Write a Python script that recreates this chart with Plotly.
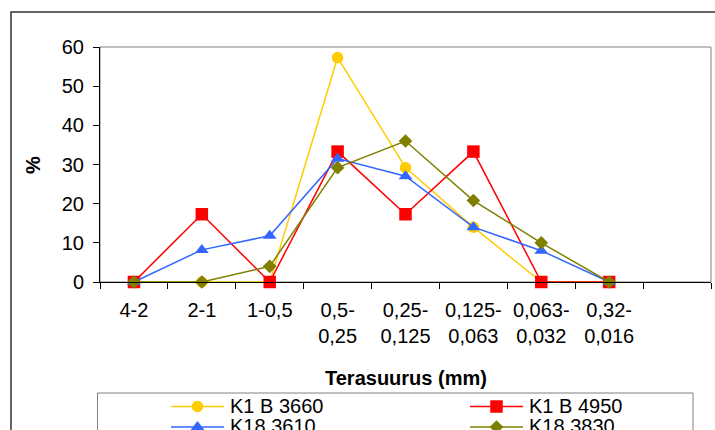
import math
import plotly.graph_objects as go

categories = ["4-2", "2-1", "1-0,5", "0,5-<br>0,25", "0,25-<br>0,125",
              "0,125-<br>0,063", "0,063-<br>0,032", "0,32-<br>0,016"]
extra_category = [" "]

series_names = ["K1 B 3660", "K1 B 4950", "K18 3610", "K18 3830"]
k1b3660 = [0, 0, 0, 57.3, 29.2, 14.0, 0, 0]
k1b4950 = [0, 17.3, 0, 33.3, 17.3, 33.3, 0, 0]
k18_3610 = [0, 8.2, 11.8, 31.5, 27.0, 14.0, 8.0, 0]
k18_3830 = [0, 0, 4.0, 29.2, 36.0, 20.8, 10.0, 0]

y_ticks = [0, 10, 20, 30, 40, 50, 60]

FONT = "Arial, Liberation Sans, sans-serif"

styles = [
    dict(color="#FFCC00", symbol="circle", size=11.5),
    dict(color="#FF0000", symbol="square", size=12.5),
    dict(color="#3366FF", symbol="triangle-up", size=12),
    dict(color="#808000", symbol="diamond", size=10.5),
]

fig = go.Figure()
for name, vals, st in zip(series_names, [k1b3660, k1b4950, k18_3610, k18_3830], styles):
    fig.add_trace(go.Scatter(
        x=categories, y=vals, name=name, mode="lines+markers",
        line=dict(color=st["color"], width=1.5),
        marker=dict(color=st["color"], symbol=st["symbol"], size=st["size"],
                    line=dict(width=0)),
        cliponaxis=False, showlegend=False,
    ))

W, H = 715, 430
L, R, T, B = 100, 4, 47, 148
pw, ph = W - L - R, H - T - B


def px_x(x):
    return (x - L) / pw


def px_y(y):
    return (H - B - y) / ph


shapes = [
    dict(type="rect", xref="paper", yref="paper", x0=0, x1=1, y0=0, y1=1,
         line=dict(color="#808080", width=1), layer="below"),
    dict(type="rect", xref="paper", yref="paper", x0=px_x(11), x1=px_x(760),
         y0=px_y(480), y1=px_y(12), line=dict(color="#333333", width=1.5),
         layer="below"),
    dict(type="rect", xref="paper", yref="paper", x0=px_x(97.5), x1=px_x(693),
         y0=px_y(470), y1=px_y(393), line=dict(color="#808080", width=1),
         layer="below"),
]
annotations = [
    dict(text="<b>%</b>", xref="paper", yref="paper", x=px_x(33), y=px_y(165),
         textangle=-90, showarrow=False, xanchor="center", yanchor="middle",
         font=dict(family=FONT, size=20, color="black")),
    dict(text="<b>Terasuurus (mm)</b>", xref="paper", yref="paper", x=0.5,
         y=px_y(378), showarrow=False, xanchor="center", yanchor="middle",
         font=dict(family=FONT, size=20, color="black")),
]

# legend (2 columns, drawn manually so that spacing matches the original)
col_x = [171, 470]
row_y = [406.5, 427]
sample_len = 53


def glyph(symbol, cx, cy, size, color):
    r = size / 2
    if symbol == "circle":
        return dict(type="circle", xref="paper", yref="paper",
                    x0=px_x(cx - r), x1=px_x(cx + r), y0=px_y(cy + r), y1=px_y(cy - r),
                    fillcolor=color, line=dict(width=0))
    if symbol == "square":
        return dict(type="rect", xref="paper", yref="paper",
                    x0=px_x(cx - r), x1=px_x(cx + r), y0=px_y(cy + r), y1=px_y(cy - r),
                    fillcolor=color, line=dict(width=0))
    if symbol == "triangle-up":
        rt = r * 2 / math.sqrt(3)
        pts = [(cx - rt, cy + r / 2), (cx + rt, cy + r / 2), (cx, cy - r)]
    else:  # diamond
        rd = r * 1.3
        pts = [(cx - rd, cy), (cx, cy - rd), (cx + rd, cy), (cx, cy + rd)]
    path = "M" + " L".join(f"{px_x(x):.5f},{px_y(y):.5f}" for x, y in pts) + " Z"
    return dict(type="path", xref="paper", yref="paper", path=path,
                fillcolor=color, line=dict(width=0))


for i, (name, st) in enumerate(zip(series_names, styles)):
    cx0 = col_x[i % 2]
    cy = row_y[i // 2]
    shapes.append(dict(type="line", xref="paper", yref="paper",
                       x0=px_x(cx0), x1=px_x(cx0 + sample_len), y0=px_y(cy), y1=px_y(cy),
                       line=dict(color=st["color"], width=1.5)))
    shapes.append(glyph(st["symbol"], cx0 + sample_len / 2, cy, st["size"], st["color"]))
    annotations.append(dict(text=name, xref="paper", yref="paper",
                            x=px_x(cx0 + sample_len + 4), y=px_y(cy - 1),
                            showarrow=False, xanchor="left", yanchor="middle",
                            font=dict(family=FONT, size=20, color="black")))

fig.update_layout(
    width=W, height=H,
    margin=dict(l=L, r=R, t=T, b=B, autoexpand=False),
    paper_bgcolor="white", plot_bgcolor="white",
    font=dict(family=FONT, size=20, color="black"),
    showlegend=False,
    xaxis=dict(type="category", categoryorder="array",
               categoryarray=categories + extra_category,
               range=[-0.5, len(categories) + len(extra_category) - 0.5],
               tickson="boundaries", ticks="outside", ticklen=6, tickcolor="black",
               ticklabelstandoff=10,
               showline=True, linecolor="black", linewidth=1, showgrid=False,
               zeroline=False, tickfont=dict(family=FONT, size=20, color="black")),
    yaxis=dict(range=[0, 60], tickvals=y_ticks, ticks="outside", ticklen=6,
               tickcolor="black", showline=True, linecolor="black", linewidth=1,
               ticklabelstandoff=5,
               showgrid=False, zeroline=False,
               tickfont=dict(family=FONT, size=20, color="black")),
    shapes=shapes,
    annotations=annotations,
)

fig.write_html("out.html")
